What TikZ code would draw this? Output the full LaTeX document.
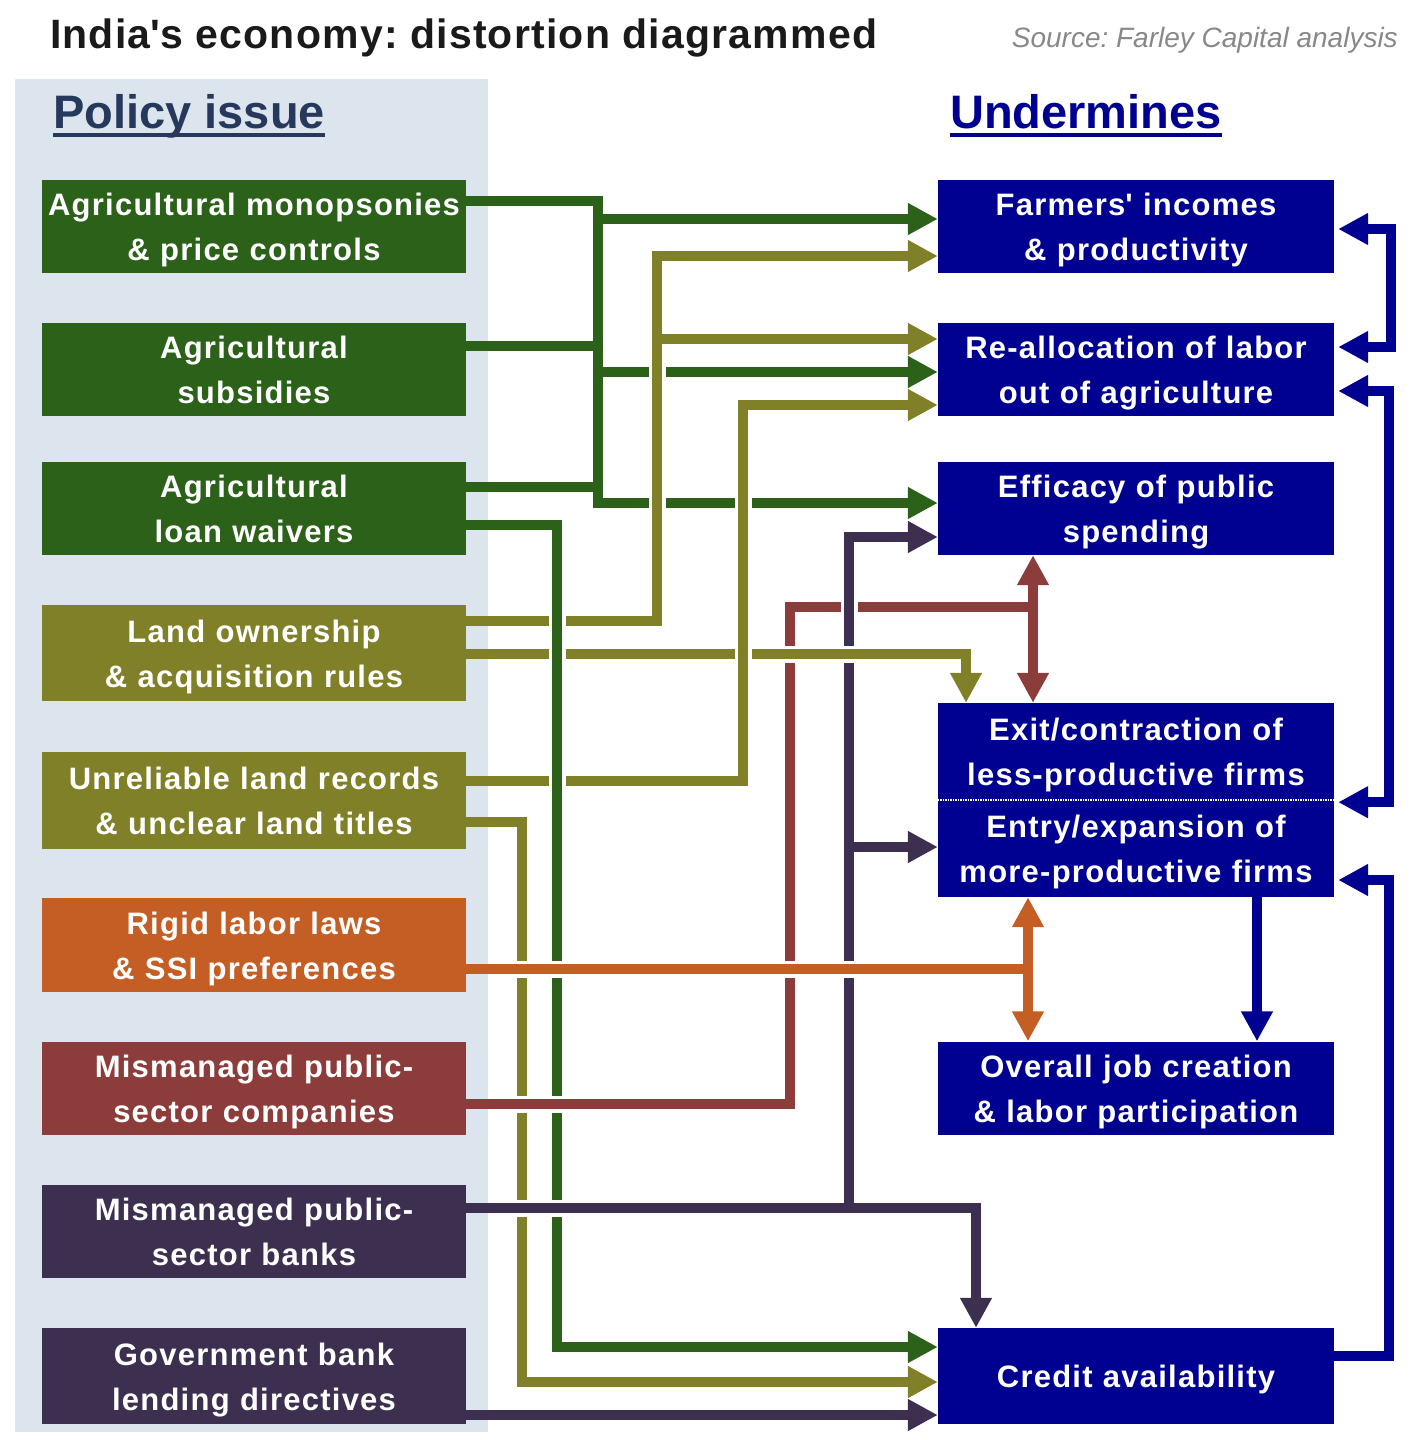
\documentclass[tikz,border=0pt]{standalone}
\usepackage{fontspec}
\setmainfont{Liberation Sans}
\newfontfamily\boxfont{Liberation Sans}[LetterSpace=4]
\newfontfamily\titlefont{Liberation Sans}[LetterSpace=2.9]
\newcommand{\apos}{\XeTeXglyph\XeTeXcharglyph"27\relax}
\frenchspacing
\usetikzlibrary{arrows.meta}
\definecolor{grn}{RGB}{44,97,26}
\definecolor{olv}{RGB}{128,128,40}
\definecolor{org}{RGB}{196,94,36}
\definecolor{brk}{RGB}{140,60,58}
\definecolor{pur}{RGB}{61,47,80}
\definecolor{nvy}{RGB}{0,0,145}
\definecolor{panel}{RGB}{220,228,238}
\definecolor{pol}{RGB}{38,56,92}
\definecolor{ttl}{RGB}{26,26,26}
\definecolor{src}{RGB}{136,136,136}

\begin{document}
\begin{tikzpicture}[x=1pt,y=-1pt,>={Triangle[length=30pt,width=30pt]}]
  \tikzstyle{issue}=[minimum width=424pt,minimum height=93pt,inner sep=0pt,text width=420pt,text height=23pt,text depth=45pt,align=center,text=white,font=\boxfont\bfseries\fontsize{31}{45}\selectfont]
  \tikzstyle{effect}=[issue,fill=nvy,minimum width=396pt,text width=392pt]
  \tikzstyle{head}=[anchor=base west,inner sep=0pt,font=\bfseries\fontsize{47}{47}\selectfont]
  \tikzstyle{link}=[line width=9.5pt]
  \tikzstyle{over}=[preaction={draw=white,line width=17pt,-,shorten <=24pt}]
  \tikzstyle{overend}=[preaction={draw=white,line width=17pt,-,shorten <=24pt,shorten >=10pt}]

  \useasboundingbox (0,0) rectangle (1414,1440);
  \fill[panel] (15,79) rectangle (488,1432);

  \node[anchor=base west,inner sep=0pt,text=ttl,font=\titlefont\bfseries\fontsize{41}{41}\selectfont] (title) at (50,48) {India\apos s economy: distortion diagrammed};
  \node[anchor=base east,inner sep=0pt,text=src,font=\itshape\fontsize{28}{28}\selectfont] (source) at (1398,47) {Source: Farley Capital analysis};
  \node[head,text=pol] (policy) at (53,128) {Policy issue};
  \node[head,text=nvy] (undermines) at (950,128) {Undermines};
  \draw[pol,line width=4pt] ([yshift=-6.5pt]policy.base west) -- ([yshift=-6.5pt]policy.base east);
  \draw[nvy,line width=4pt] ([yshift=-6.5pt]undermines.base west) -- ([yshift=-6.5pt]undermines.base east);

  \node[issue,fill=grn] (monopsony) at (254,226.5) {Agricultural monopsonies\\\& price controls};
  \node[issue,fill=grn] (subsidy) at (254,369.5) {Agricultural\\subsidies};
  \node[issue,fill=grn] (waiver) at (254,508.5) {Agricultural\\loan waivers};
  \node[issue,fill=olv,minimum height=96pt] (land) at (254,653) {Land ownership\\\& acquisition rules};
  \node[issue,fill=olv,minimum height=97pt] (records) at (254,800.5) {Unreliable land records\\\& unclear land titles};
  \node[issue,fill=org,minimum height=94pt] (labor) at (254,945) {Rigid labor laws\\\& SSI preferences};
  \node[issue,fill=brk] (psu) at (254,1088) {Mismanaged public-\\sector companies};
  \node[issue,fill=pur] (banks) at (254,1231) {Mismanaged public-\\sector banks};
  \node[issue,fill=pur,minimum height=96pt] (lending) at (254,1376) {Government bank\\lending directives};

  \node[effect] (incomes) at (1136,226.5) {Farmers\apos{} incomes\\\& productivity};
  \node[effect] (realloc) at (1136,369.5) {Re-allocation of labor\\out of agriculture};
  \node[effect] (spending) at (1136,508.5) {Efficacy of public\\spending};
  \node[effect,minimum height=97pt] (exitf) at (1136,751.5) {Exit/contraction of\\less-productive firms};
  \node[effect,minimum height=97pt] (entryf) at (1136,848.5) {Entry/expansion of\\more-productive firms};
  \node[effect] (jobs) at (1136,1088) {Overall job creation\\\& labor participation};
  \node[effect,minimum height=96pt,text depth=0pt] (credit) at (1136,1376) {Credit availability};
  \draw[white,densely dotted,line width=1.5pt] (exitf.south west) -- (exitf.south east);

  \coordinate (gbus) at (598,350);
  \coordinate (g2bus) at (557,900);
  \coordinate (obus) at (657,450);
  \coordinate (o3bus) at (743,600);
  \coordinate (o4bus) at (522,1100);
  \coordinate (bbus) at (790,1040);
  \coordinate (bjoin) at (1033,607);
  \coordinate (pjoin) at (849,1208);
  \coordinate (ojoin) at (1028,969);
  \coordinate (nbus1) at (1391,290);
  \coordinate (nbus2) at (1389,600);
  \coordinate (nbus3) at (1389,1100);

  \draw[link,grn,->] ([yshift=25.5pt]monopsony.east) -| (gbus) |- ([yshift=5.5pt]spending.west);
  \draw[link,grn,<-] ([yshift=7.5pt]incomes.west) -| (gbus);
  \draw[link,grn,<-] ([yshift=-2.5pt]realloc.west) -| (gbus);
  \draw[link,grn] ([yshift=23.5pt]subsidy.east) -| (gbus);
  \draw[link,grn] ([yshift=21.5pt]waiver.east) -| (gbus);

  \draw[link,brk] (bbus) |- (bjoin);
  \draw[link,brk,<->] ([xshift=-103pt]spending.south) -- ([xshift=-103pt]exitf.north);

  \draw[link,pur,over,->] (pjoin) |- ([yshift=-28.5pt]spending.west);
  \draw[link,pur,<-] ([yshift=1.5pt]entryf.west) -| (pjoin);
  \draw[link,pur,->] (pjoin) -| ([xshift=-160pt]credit.north);

  \draw[link,olv,over,->] ([yshift=32pt]land.east) -| (obus) |- ([yshift=-29.5pt]incomes.west);
  \draw[link,olv,<-] ([yshift=30.5pt]realloc.west) -| (obus);
  \draw[link,olv,over,->] ([yshift=-1pt]land.east) -| ([xshift=-170pt]exitf.north);
  \draw[link,olv,over,->] ([yshift=19.5pt]records.east) -| (o3bus) |- ([yshift=-35.5pt]realloc.west);
  \draw[link,olv,->] ([yshift=-21.5pt]records.east) -| (o4bus) |- ([yshift=-6pt]credit.west);

  \draw[link,grn,over,->] ([yshift=-16.5pt]waiver.east) -| (g2bus) |- ([yshift=29pt]credit.west);
  \draw[link,brk,overend] ([yshift=-16pt]psu.east) -| (bbus);
  \draw[link,pur,overend] ([yshift=23pt]banks.east) -- (pjoin);

  \draw[link,org,over] ([yshift=-24pt]labor.east) -- (ojoin);
  \draw[link,org,<->] ([xshift=-108pt]entryf.south) -- ([xshift=-108pt]jobs.north);

  \draw[link,pur,->] ([yshift=-39pt]lending.east) -- ([yshift=-39pt]credit.west);

  \draw[link,nvy,<->] ([xshift=4pt,yshift=-2.5pt]incomes.east) -| (nbus1) |- ([xshift=4pt,yshift=22.5pt]realloc.east);
  \draw[link,nvy,<->] ([xshift=4pt,yshift=-21.5pt]realloc.east) -| (nbus2) |- ([xshift=4pt,yshift=-2pt]exitf.south east);
  \draw[link,nvy,->] ([yshift=20pt]credit.east) -| (nbus3) |- ([xshift=4pt,yshift=-31.5pt]entryf.east);
  \draw[link,nvy,->] ([xshift=121pt]entryf.south) -- ([xshift=121pt]jobs.north);
\end{tikzpicture}
\end{document}
